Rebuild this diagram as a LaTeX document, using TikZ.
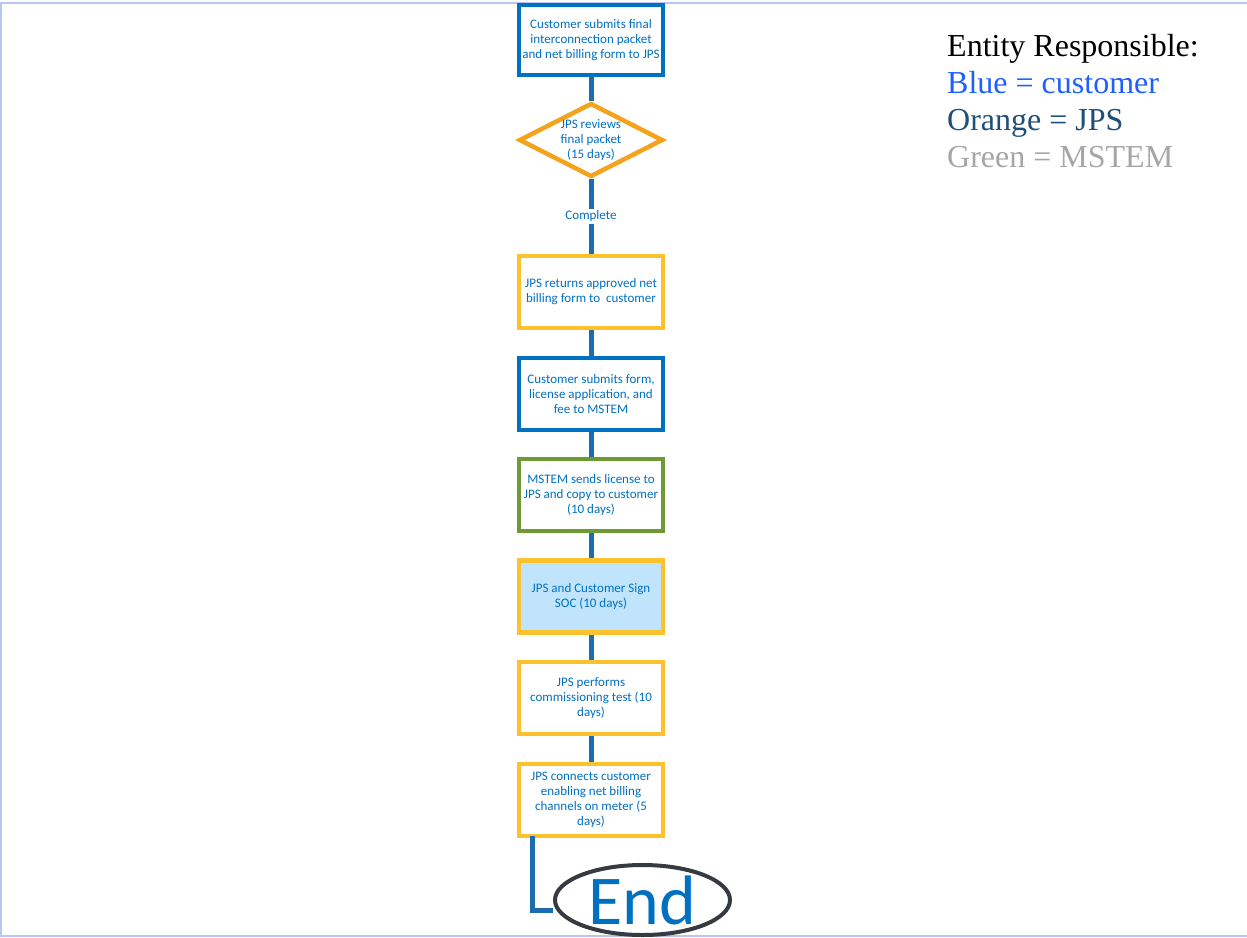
\documentclass[tikz,border=0pt]{standalone}
\usepackage{fontspec}
\setmainfont{Liberation Serif}
\newfontfamily\calfont{Carlito}
\usepackage{tikz}
\usetikzlibrary{shapes.geometric}
\definecolor{custblue}{HTML}{0070C0}
\definecolor{lineblue}{HTML}{1C6DAF}
\definecolor{jpsyellow}{HTML}{FCC12D}
\definecolor{revorange}{HTML}{F5A31D}
\definecolor{mstemgreen}{HTML}{6E9A36}
\definecolor{socfill}{HTML}{BFE4FB}
\definecolor{framecol}{HTML}{B4C8F0}
\definecolor{endgray}{HTML}{353B40}
\definecolor{legblue}{HTML}{1F5FFF}
\definecolor{legdark}{HTML}{1F4E79}
\definecolor{leggray}{HTML}{A6A6A6}
\tikzset{
    box/.style={rectangle,draw,line width=4.5pt,fill=white,minimum width=144pt,minimum height=72pt,inner sep=0pt,
        align=center,text=custblue,font=\calfont\fontsize{13}{15}\selectfont},
    custbox/.style={box,draw=custblue},
    jpsbox/.style={box,draw=jpsyellow},
    mstembox/.style={box,draw=mstemgreen},
    flowline/.style={draw=lineblue,line width=5pt},
    lbl/.style={fill=white,text=custblue,inner sep=2pt,font=\calfont\fontsize{13}{15}\selectfont},
    legend/.style={anchor=base west,inner sep=0pt,font=\fontsize{32}{37}\selectfont}
}

\begin{document}
\begin{tikzpicture}[x=1pt,y=-1pt]
\useasboundingbox (0,0) rectangle (1247,937);
\draw[framecol,line width=2pt] (1247,2.5) -- (1,2.5) -- (1,936) -- (1247,936);

\node[custbox,minimum height=70pt] (finalpkt) at (591,40) {Customer submits final\\interconnection packet\\and net billing form to JPS};
\node[diamond,draw=revorange,line width=4.5pt,fill=white,minimum width=144pt,minimum height=74pt,inner sep=0pt] (review) at (591,140) {};
\node[text=custblue,align=center,font=\calfont\fontsize{13}{15}\selectfont] (reviewtxt) at (review) {JPS reviews\\final packet\\(15 days)};
\node[jpsbox] (returns) at (591,292) {JPS returns approved net\\billing form to\ \ customer};
\node[custbox] (license) at (591,394) {Customer submits form,\\license application, and\\fee to MSTEM};
\node[mstembox] (mstem) at (591,495) {MSTEM sends license to\\JPS and copy to customer\\(10 days)};
\node[jpsbox,fill=socfill] (soc) at (591,596.5) {JPS and Customer Sign\\SOC (10 days)};
\node[jpsbox] (commission) at (591,698) {JPS performs\\commissioning test (10\\days)};
\node[jpsbox] (connect) at (591,800) {JPS connects customer\\enabling net billing\\channels on meter (5\\days)};
\node[ellipse,draw=endgray,line width=4pt,minimum width=175pt,minimum height=70pt,inner sep=0pt,
      text=custblue,font=\calfont\fontsize{70}{70}\selectfont] (theend) at (642.5,900) {End};

\draw[flowline] (finalpkt) -- (review);
\draw[flowline] (review) -- node[lbl] {Complete} (returns);
\draw[flowline] (returns) -- (license);
\draw[flowline] (license) -- (mstem);
\draw[flowline] (mstem) -- (soc);
\draw[flowline] (soc) -- (commission);
\draw[flowline] (commission) -- (connect);
\draw[flowline] ([xshift=15.5pt,yshift=2pt]connect.south west) |- ([yshift=-10pt]theend.west);

\node[legend] (leghead) at (947,56) {Entity Responsible:};
\node[legend,text=legblue] (legcust) at (947,93) {Blue = customer};
\node[legend,text=legdark] (legjps) at (947,130) {Orange = JPS};
\node[legend,text=leggray] (legmstem) at (947,167) {Green = MSTEM};
\end{tikzpicture}
\end{document}
